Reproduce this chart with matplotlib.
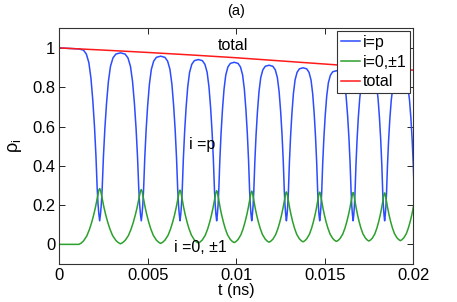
import numpy as np
import matplotlib
matplotlib.use('Agg')
import matplotlib.pyplot as plt

plt.rcParams['font.family'] = ['Liberation Sans', 'DejaVu Sans']
plt.rcParams['mathtext.fontset'] = 'custom'
plt.rcParams['mathtext.rm'] = 'Liberation Sans'
plt.rcParams['mathtext.it'] = 'Liberation Sans:italic'

# times of the dips (blue minimum / green maximum), ns
t_dip = np.array([2.28, 4.63, 6.82, 8.89, 10.87, 12.83, 14.71, 16.60, 18.38, 20.16]) * 1e-3
# blue (i=p): value at each dip, and value of the arch before/between/after dips
blue_dip = [0.12, 0.12, 0.12, 0.12, 0.12, 0.12, 0.12, 0.12, 0.12, 0.12]
blue_mid = [0.995, 0.975, 0.958, 0.941, 0.927, 0.912, 0.899, 0.884, 0.872, 0.860, 0.85]
# green (i=0,±1): peak at each dip, and floor between dips
green_dip = [0.284, 0.279, 0.276, 0.273, 0.271, 0.267, 0.266, 0.264, 0.262, 0.26]
green_mid = [0.0, 0.003, 0.005, 0.007, 0.009, 0.011, 0.013, 0.015, 0.017, 0.019, 0.02]
# shape of one half dip (0 = dip centre, 1 = half way to next dip)
blue_phase = [0, 0.04, 0.08, 0.12, 0.18, 0.25, 0.33, 0.42, 0.52, 0.64, 0.78, 1.0]
blue_w = [1, 0.96, 0.9, 0.81, 0.62, 0.45, 0.3, 0.17, 0.08, 0.03, 0.007, 0]
green_phase = [0, 0.04, 0.08, 0.13, 0.2, 0.28, 0.38, 0.49, 0.62, 0.78, 0.9, 1.0]
green_w = [1, 0.97, 0.9, 0.8, 0.67, 0.54, 0.4, 0.27, 0.15, 0.06, 0.02, 0]
# total population
t_tot = np.array([0, 2.5, 5, 7.5, 10, 12.5, 15, 17.5, 20]) * 1e-3
p_tot = [1.0, 0.989, 0.977, 0.964, 0.950, 0.934, 0.918, 0.902, 0.887]


def series(v0, dip, mid, phase, w):
    # chain the half dips together
    gaps = np.diff(t_dip) / 2
    half = np.concatenate([[gaps[0]], gaps, [gaps[-1]]])
    ts, vs = [0.0], [v0]
    for k, c in enumerate(t_dip):
        for p, ww in zip(phase[::-1], w[::-1]):
            ts.append(c - half[k] * p)
            vs.append(mid[k] + (dip[k] - mid[k]) * ww)
        for p, ww in zip(phase[1:], w[1:]):
            ts.append(c + half[k + 1] * p)
            vs.append(mid[k + 1] + (dip[k] - mid[k + 1]) * ww)
    return ts, vs


tb, pb = series(1.0, blue_dip, blue_mid, blue_phase, blue_w)
tg, pg = series(0.0, green_dip, green_mid, green_phase, green_w)

fig = plt.figure(figsize=(4.57, 3.02), dpi=100)
ax = fig.add_axes([0.1298, 0.1258, 0.7746, 0.7805])

ax.plot(tb, pb, color='#2b4cff', lw=1.1, label='i=p')
ax.plot(tg, pg, color='#2ca02c', lw=1.1, label='i=0,\u00b11')
ax.plot(t_tot, p_tot, color='#ff1a1a', lw=1.1, label='total')

ax.set_xlim(0, 0.02)
ax.set_ylim(-0.1, 1.1)
ax.set_xticks([0, 0.005, 0.01, 0.015, 0.02])
ax.set_xticklabels(['0', '0.005', '0.01', '0.015', '0.02'])
ax.set_yticks([0, 0.2, 0.4, 0.6, 0.8, 1])
ax.set_yticklabels(['0', '0.2', '0.4', '0.6', '0.8', '1'])
ax.tick_params(direction='in', top=True, right=True, length=4, width=0.6,
               labelsize=12, pad=3)
for s in ax.spines.values():
    s.set_linewidth(0.8)
    s.set_color('#333333')

ax.set_xlabel('t (ns)', fontsize=11.5, labelpad=0)
ax.set_ylabel(r'$\mathrm{\rho}_{\mathrm{i}}$', fontsize=13, labelpad=6)
fig.text(236 / 457, 1 - 11 / 302, '(a)', fontsize=10.5, ha='center', va='center')

# text labels inside the plot
ax.text(0.00981, 1.014, 'total', fontsize=11.5, ha='center', va='center')
ax.text(0.00806, 0.507, 'i =p', fontsize=11.5, ha='center', va='center')
ax.text(0.00799, -0.015, 'i =0, \u00b11', fontsize=11.5, ha='center', va='center')

leg = ax.legend(loc='upper right', bbox_to_anchor=(0.991, 0.989), borderaxespad=0,
                fancybox=False, framealpha=1, edgecolor='#333333', fontsize=11.5,
                borderpad=0.25, handlelength=1.2, handletextpad=0.15, labelspacing=0.3)
leg.get_frame().set_linewidth(0.8)

fig.savefig('out.png', dpi=100)
